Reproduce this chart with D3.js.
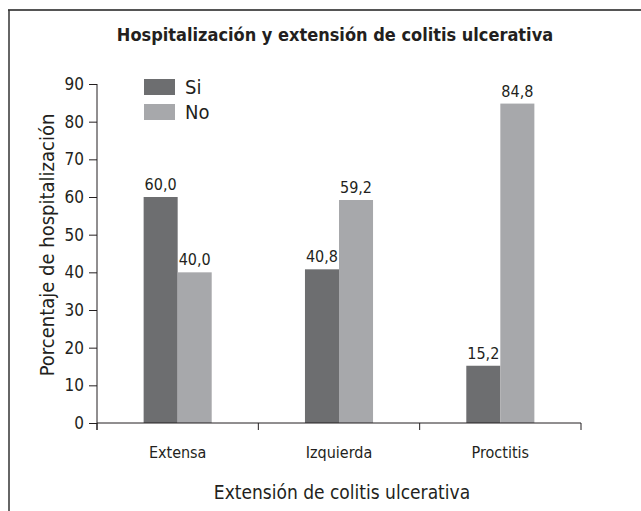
<!DOCTYPE html>
<html>
<head>
<meta charset="utf-8">
<script src="https://cdn.jsdelivr.net/npm/d3@7"></script>
<style>
  body { margin: 0; background: #fff; }
  svg text { font-family: "Liberation Sans Narrow", "DejaVu Sans Condensed", sans-serif; fill: #231f20; }
</style>
</head>
<body>
<svg id="chart" width="641" height="511"></svg>
<script>
// data
var categories = ["Extensa", "Izquierda", "Proctitis"];
var seriesNames = ["Si", "No"];
var siValues = [60.0, 40.8, 15.2];
var noValues = [40.0, 59.2, 84.8];
var yTicks = [0, 10, 20, 30, 40, 50, 60, 70, 80, 90];
var colors = { Si: "#6d6e70", No: "#a7a8ab" };

var svg = d3.select("#chart");
var margin = { left: 97, right: 60, top: 84, bottom: 88 };
var width = 581 - margin.left;
var height = 423 - margin.top;

// frame (top and left rule)
svg.append("line").attr("x1", 8).attr("x2", 641).attr("y1", 10).attr("y2", 10)
    .style("stroke", "#555").style("stroke-width", 2);
svg.append("line").attr("x1", 9).attr("x2", 9).attr("y1", 10).attr("y2", 511)
    .style("stroke", "#333").style("stroke-width", 1.5);

svg.append("text").attr("x", 335).attr("y", 41).attr("text-anchor", "middle")
    .style("font-size", "18px").style("font-weight", "bold")
    .text("Hospitalización y extensión de colitis ulcerativa");

var g = svg.append("g").attr("transform", "translate(" + margin.left + "," + margin.top + ")");

var scalex = d3.scaleBand().domain(categories).range([0, width]).paddingInner(0).paddingOuter(0);
var scale2 = d3.scaleBand().domain(seriesNames).range([0, scalex.bandwidth()]).paddingInner(0).paddingOuter(1.37);
var scaley = d3.scaleLinear().domain([0, 90]).range([height, 0]);

var data = categories.map(function (c, i) { return { cat: c, Si: siValues[i], No: noValues[i] }; });

// bars
seriesNames.forEach(function (s) {
    var grp = g.selectAll(".bar-" + s).data(data).enter().append("g")
        .attr("transform", function (d) { return "translate(" + scalex(d.cat) + ",0)"; });
    grp.append("rect")
        .attr("x", scale2(s)).attr("width", scale2.bandwidth())
        .attr("y", function (d) { return scaley(d[s]); })
        .attr("height", function (d) { return height - scaley(d[s]); })
        .style("fill", colors[s]);
    grp.append("text")
        .attr("x", scale2(s) + scale2.bandwidth() / 2)
        .attr("y", function (d) { return scaley(d[s]) - 7; })
        .attr("text-anchor", "middle").style("font-size", "16px")
        .text(function (d) { return d[s].toFixed(1).replace(".", ","); });
});

// y axis
var yAxis = g.append("g").call(d3.axisLeft(scaley).tickValues(yTicks).tickSize(8).tickSizeOuter(0));
yAxis.select(".domain").remove();
yAxis.append("line").attr("x1", 0).attr("x2", 0).attr("y1", 0).attr("y2", height + 7).style("stroke", "#231f20");
yAxis.selectAll(".tick line").style("stroke", "#231f20");
yAxis.selectAll(".tick text").attr("x", -13).style("font-size", "17px").style("font-family", null);

// x axis
var xAxis = g.append("g").attr("transform", "translate(0," + height + ")")
    .call(d3.axisBottom(scalex).tickSize(0).tickSizeOuter(0));
xAxis.select(".domain").remove();
xAxis.append("line").attr("x1", 0).attr("x2", width).style("stroke", "#231f20");
xAxis.selectAll(".tick text").attr("y", 24).style("font-size", "16px").style("font-family", null);
xAxis.selectAll(".sep").data(categories.concat(["end"])).enter().append("line")
    .attr("x1", function (d, i) { return i * scalex.step(); })
    .attr("x2", function (d, i) { return i * scalex.step(); })
    .attr("y1", 0).attr("y2", 7).style("stroke", "#231f20");
g.selectAll(".domain, .tick line").attr("stroke", "#231f20");

// axis titles
svg.append("text").attr("transform", "translate(54,245) rotate(-90)").attr("text-anchor", "middle")
    .style("font-size", "20px").text("Porcentaje de hospitalización");
svg.append("text").attr("x", 342).attr("y", 499).attr("text-anchor", "middle")
    .style("font-size", "19px").text("Extensión de colitis ulcerativa");

// legend
var legend = svg.append("g").attr("transform", "translate(144,79)");
seriesNames.forEach(function (s, i) {
    legend.append("rect").attr("x", 0).attr("y", i * 25).attr("width", 31).attr("height", 16).style("fill", colors[s]);
    legend.append("text").attr("x", 41).attr("y", i * 25 + 15).style("font-size", "20px").text(s);
});
</script>
</body>
</html>
